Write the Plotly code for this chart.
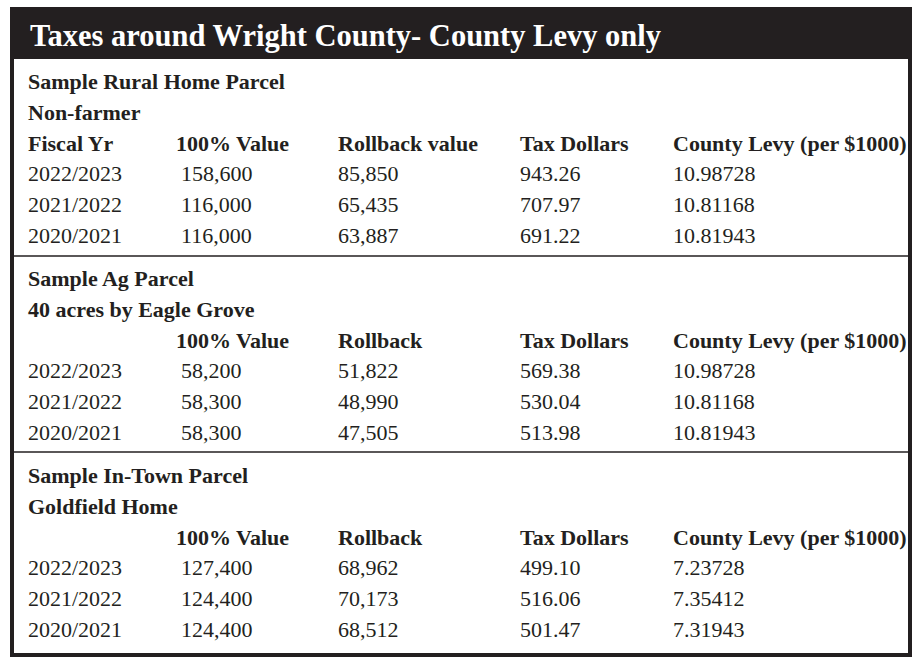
import plotly.graph_objects as go

title = "Taxes around Wright County- County Levy only"
fiscal_years = ["2022/2023", "2021/2022", "2020/2021"]

rural_title = ["Sample Rural Home Parcel", "Non-farmer"]
rural_headers = ["Fiscal Yr", "100% Value", "Rollback value", "Tax Dollars", "County Levy (per $1000)"]
rural_value = [158600, 116000, 116000]
rural_rollback = [85850, 65435, 63887]
rural_tax = [943.26, 707.97, 691.22]
rural_levy = [10.98728, 10.81168, 10.81943]

ag_title = ["Sample Ag Parcel", "40 acres by Eagle Grove"]
ag_headers = ["", "100% Value", "Rollback", "Tax Dollars", "County Levy (per $1000)"]
ag_value = [58200, 58300, 58300]
ag_rollback = [51822, 48990, 47505]
ag_tax = [569.38, 530.04, 513.98]
ag_levy = [10.98728, 10.81168, 10.81943]

town_title = ["Sample In-Town Parcel", "Goldfield Home"]
town_headers = ["", "100% Value", "Rollback", "Tax Dollars", "County Levy (per $1000)"]
town_value = [127400, 124400, 124400]
town_rollback = [68962, 70173, 68512]
town_tax = [499.10, 516.06, 501.47]
town_levy = [7.23728, 7.35412, 7.31943]

sections = [
    (rural_title, rural_headers, rural_value, rural_rollback, rural_tax, rural_levy),
    (ag_title, ag_headers, ag_value, ag_rollback, ag_tax, ag_levy),
    (town_title, town_headers, town_value, town_rollback, town_tax, town_levy),
]

INK = "#231f20"
FONT = "Liberation Serif"
W, H = 923, 667

# layout (pixel coordinates on hidden axes)
col_x = [28, 176, 338, 520, 673]
val_x = [28, 181, 338, 520, 673]
section_top = [83.5, 280.5, 477.5]
row_step = 30.8

bold_x, bold_y, bold_t = [], [], []
reg_x, reg_y, reg_t = [], [], []

for top, (names, headers, value, rollback, tax, levy) in zip(section_top, sections):
    for i, name in enumerate(names):
        bold_x.append(col_x[0])
        bold_y.append(top + i * row_step)
        bold_t.append(name)
    hy = top + 2 * row_step
    for cx, h in zip(col_x, headers):
        if h:
            bold_x.append(cx)
            bold_y.append(hy)
            bold_t.append(h)
    for r in range(3):
        ry = top + (3 + r) * row_step
        cells = [
            fiscal_years[r],
            f"{value[r]:,}",
            f"{rollback[r]:,}",
            f"{tax[r]:.2f}",
            f"{levy[r]:.5f}",
        ]
        for cx, c in zip(val_x, cells):
            reg_x.append(cx)
            reg_y.append(ry)
            reg_t.append(c)

fig = go.Figure()
fig.add_trace(go.Scatter(
    x=bold_x, y=bold_y, text=bold_t, mode="text", textposition="middle right",
    textfont=dict(family=FONT, size=22, color=INK, weight="bold"),
    hoverinfo="skip", showlegend=False,
))
fig.add_trace(go.Scatter(
    x=reg_x, y=reg_y, text=reg_t, mode="text", textposition="middle right",
    textfont=dict(family=FONT, size=22, color=INK),
    hoverinfo="skip", showlegend=False,
))

shapes = [
    # outer frame
    dict(type="rect", x0=12, x1=910, y0=9, y1=655, line=dict(color=INK, width=4), fillcolor="rgba(0,0,0,0)", layer="below"),
    # header bar
    dict(type="rect", x0=10, x1=912, y0=8, y1=59, line=dict(width=0), fillcolor=INK, layer="below"),
    # section separators
    dict(type="line", x0=12, x1=910, y0=256, y1=256, line=dict(color=INK, width=1.3)),
    dict(type="line", x0=12, x1=910, y0=452, y1=452, line=dict(color=INK, width=1.3)),
]

fig.update_layout(
    width=W, height=H,
    margin=dict(l=0, r=0, t=0, b=0),
    paper_bgcolor="white", plot_bgcolor="white",
    xaxis=dict(range=[0, W], visible=False, fixedrange=True),
    yaxis=dict(range=[H, 0], visible=False, fixedrange=True),
    shapes=shapes,
    annotations=[dict(
        text=title, x=28, y=35.5, xref="x", yref="y", xanchor="left", yanchor="middle",
        showarrow=False, font=dict(family=FONT, size=30.5, color="white", weight="bold"),
    )],
)

# the page's default 8px body margin would push the figure off the window
fig.write_html("out.html", config={"displayModeBar": False},
               post_script="document.body.style.margin='0';document.body.style.overflow='hidden';")
